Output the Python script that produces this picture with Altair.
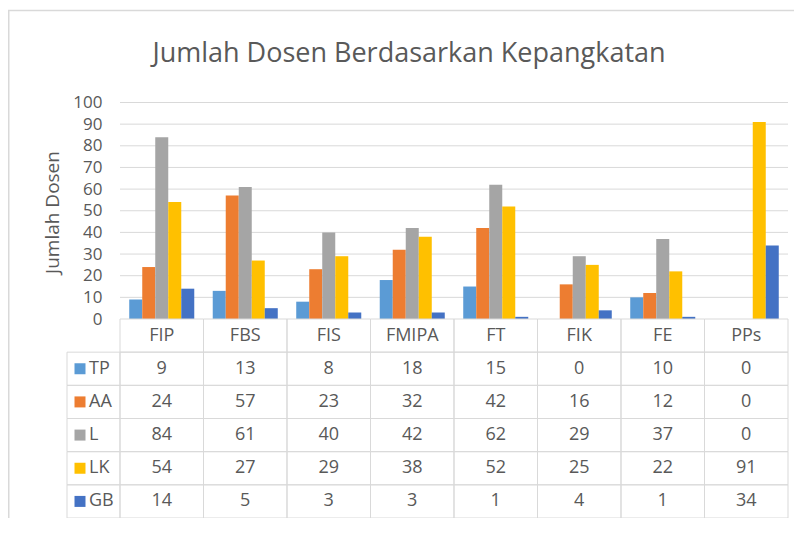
import altair as alt
import pandas as pd

categories = ["FIP", "FBS", "FIS", "FMIPA", "FT", "FIK", "FE", "PPs"]
series = ["TP", "AA", "L", "LK", "GB"]
colors = ["#5B9BD5", "#ED7D31", "#A5A5A5", "#FFC000", "#4472C4"]
tp = [9, 13, 8, 18, 15, 0, 10, 0]
aa = [24, 57, 23, 32, 42, 16, 12, 0]
lv = [84, 61, 40, 42, 62, 29, 37, 0]
lk = [54, 27, 29, 38, 52, 25, 22, 91]
gb = [14, 5, 3, 3, 1, 4, 1, 34]
y_ticks = [0, 10, 20, 30, 40, 50, 60, 70, 80, 90, 100]
title_text = "Jumlah Dosen Berdasarkan Kepangkatan"
y_title = "Jumlah Dosen"

values = {"TP": tp, "AA": aa, "L": lv, "LK": lk, "GB": gb}
long = pd.DataFrame(
    [{"cat": c, "series": s, "value": values[s][i]} for s in series for i, c in enumerate(categories)]
)
header_df = pd.DataFrame({"cat": categories, "series": ["hdr"] * len(categories)})
legend_df = pd.DataFrame({"series": series})
grid_df = pd.DataFrame({"v": y_ticks[1:]})

FONT = "Open Sans"
TEXT = "#595959"
GRID = "#d9d9d9"
W, H = 786, 510

xscale = alt.Scale(domain=categories, range=[112, 780], paddingInner=0, paddingOuter=0)
yscale = alt.Scale(domain=[0, 100], range=[311, 94.5], nice=False)
rows = ["hdr"] + series
rowscale = alt.Scale(domain=rows, range=[311, 510], paddingInner=0, paddingOuter=0)
cscale = alt.Scale(domain=series, range=colors)

X = alt.X("cat:N", scale=xscale, axis=None, sort=categories)
YR = alt.Y("series:N", scale=rowscale, axis=None, sort=rows)

grid = alt.Chart(grid_df).mark_rule(color=GRID, strokeWidth=1).encode(
    y=alt.Y("v:Q", scale=yscale, axis=None),
    x=alt.value(112),
    x2=alt.value(780),
)

bars = alt.Chart(long).mark_bar().encode(
    x=X,
    xOffset=alt.XOffset("series:N", scale=alt.Scale(domain=series, paddingInner=0, paddingOuter=0.71), sort=series),
    y=alt.Y(
        "value:Q",
        scale=yscale,
        axis=alt.Axis(
            values=y_ticks, offset=-112, domain=False, ticks=False, tickSize=0, grid=False,
            labelPadding=18, labelFont=FONT, labelFontSize=17, labelColor=TEXT,
            title=y_title, titleFont=FONT, titleFontSize=19, titleFontWeight="normal",
            titleColor=TEXT, titleX=-62, titleY=204, titleBaseline="alphabetic",
        ),
    ),
    color=alt.Color("series:N", scale=cscale, legend=None),
)

cells = alt.Chart(long).mark_rect(fillOpacity=0, stroke=GRID, strokeWidth=1).encode(x=X, y=YR)
hcells = alt.Chart(header_df).mark_rect(fillOpacity=0, stroke=GRID, strokeWidth=1).encode(x=X, y=YR)
lcells = alt.Chart(legend_df).mark_rect(fillOpacity=0, stroke=GRID, strokeWidth=1).encode(
    x=alt.value(59), x2=alt.value(112), y=YR
)

vals = alt.Chart(long).mark_text(font=FONT, fontSize=18, color=TEXT, baseline="middle").encode(
    x=X, y=YR, text=alt.Text("value:Q")
)
hdr = alt.Chart(header_df).mark_text(font=FONT, fontSize=18, color=TEXT, baseline="middle").encode(
    x=X, y=YR, text=alt.Text("cat:N")
)
lsq = alt.Chart(legend_df).mark_square(size=121, opacity=1).encode(
    x=alt.value(72), y=YR, color=alt.Color("series:N", scale=cscale, legend=None)
)
ltx = alt.Chart(legend_df).mark_text(font=FONT, fontSize=18, color=TEXT, baseline="middle", align="left").encode(
    x=alt.value(81), y=YR, text=alt.Text("series:N")
)

frame_top = alt.Chart(legend_df.head(1)).mark_rule(color=GRID, strokeWidth=1.5).encode(
    x=alt.value(0), x2=alt.value(W), y=alt.value(2.5)
)
frame_left = alt.Chart(legend_df.head(1)).mark_rule(color=GRID, strokeWidth=1.5).encode(
    x=alt.value(0.75), y=alt.value(2.5), y2=alt.value(H)
)

chart = (
    alt.layer(frame_top, frame_left, grid, bars, cells, hcells, lcells, vals, hdr, lsq, ltx)
    .resolve_scale(y="independent")
    .properties(
        width=W,
        height=H,
        padding=0,
        autosize=alt.AutoSizeParams(type="none"),
        title=alt.TitleParams(
            title_text, font=FONT, fontSize=27, fontWeight="normal", color=TEXT,
            anchor="middle", baseline="alphabetic", dx=8, dy=85,
        ),
    )
    .configure_view(stroke=None)
)

chart.save("out.html", embed_options={"renderer": "svg", "actions": False})
